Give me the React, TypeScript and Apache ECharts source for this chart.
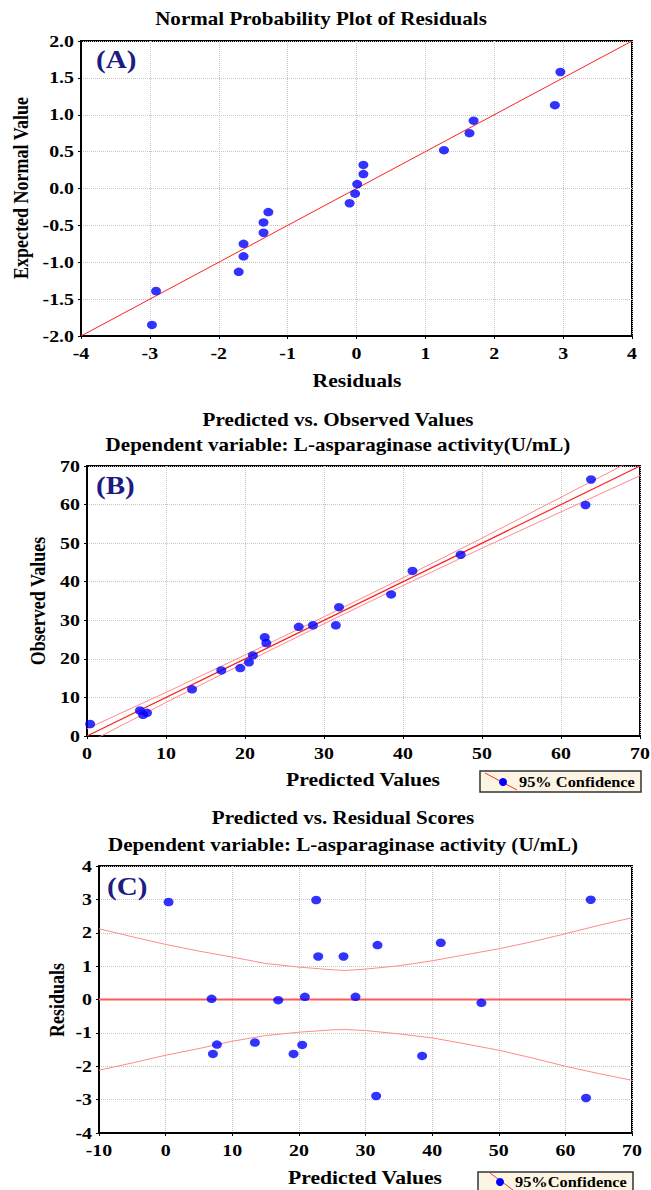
import React, { useEffect, useRef } from "react";
import * as echarts from "echarts";

// Panel A: normal probability plot of residuals
const residualsA = [2.96, 2.88, 1.70, 1.64, 1.27, 0.10, 0.10, 0.01, -0.02, -0.10, -1.28, -1.35, -1.35, -1.64, -1.64, -1.71, -2.91, -2.97];
const expectedA = [1.58, 1.13, 0.92, 0.75, 0.52, 0.32, 0.195, 0.06, -0.07, -0.20, -0.32, -0.46, -0.60, -0.75, -0.92, -1.13, -1.39, -1.85];
const fitLineAX = [-4, 4];
const fitLineAY = [-2, 2];
const ticksAX = [-4, -3, -2, -1, 0, 1, 2, 3, 4];
const ticksAY = [-2, -1.5, -1, -0.5, 0, 0.5, 1, 1.5, 2];

// Panel B: predicted vs observed
const predictedB = [63.8, 63.1, 47.3, 41.2, 38.5, 31.9, 31.5, 28.6, 26.8, 22.5, 22.7, 21.0, 20.5, 19.4, 17.0, 13.3, 6.7, 7.1, 7.6, 0.4];
const observedB = [66.5, 59.9, 47.0, 42.8, 36.7, 33.4, 28.7, 28.7, 28.3, 25.6, 24.1, 20.9, 19.1, 17.6, 17.0, 12.1, 6.6, 5.5, 6.0, 3.1];
const fitLineBX = [0, 70];
const fitLineBY = [0, 70];
const bandBX = [0, 10, 20, 30, 40, 50, 60, 70];
const bandBUpper = [1.9, 11.3, 21.0, 30.9, 41.0, 51.3, 61.9, 72.5];
const bandBLower = [-1.9, 8.7, 19.0, 29.1, 39.0, 48.7, 58.1, 67.5];
const ticksBX = [0, 10, 20, 30, 40, 50, 60, 70];
const ticksBY = [0, 10, 20, 30, 40, 50, 60, 70];

// Panel C: predicted vs residual
const predictedC = [0.44, 22.6, 63.8, 31.8, 41.3, 22.9, 26.7, 6.9, 16.9, 20.9, 28.5, 47.4, 7.7, 7.1, 13.4, 19.2, 20.5, 38.5, 31.6, 63.1];
const residualC = [2.92, 2.98, 2.99, 1.63, 1.70, 1.29, 1.29, 0.02, -0.02, 0.08, 0.08, -0.10, -1.35, -1.63, -1.29, -1.63, -1.36, -1.69, -2.89, -2.95];
const bandCX = [-10, -5, 0, 5, 10, 15, 20, 25, 27, 30, 35, 40, 45, 50, 55, 60, 65, 70];
const bandCUpper = [2.12, 1.88, 1.65, 1.45, 1.27, 1.08, 0.97, 0.89, 0.87, 0.91, 1.01, 1.16, 1.34, 1.52, 1.73, 1.97, 2.22, 2.45];
const bandCLower = [-2.12, -1.9, -1.67, -1.47, -1.25, -1.08, -0.98, -0.91, -0.9, -0.93, -1.03, -1.15, -1.33, -1.52, -1.75, -2.0, -2.22, -2.42];
const zeroLineCX = [-10, 70];
const zeroLineCY = [0, 0];
const ticksCX = [-10, 0, 10, 20, 30, 40, 50, 60, 70];
const ticksCY = [-4, -3, -2, -1, 0, 1, 2, 3, 4];

const titleA = "Normal Probability Plot of Residuals";
const titleB1 = "Predicted vs. Observed Values";
const titleB2 = "Dependent variable: L-asparaginase activity(U/mL)";
const titleC1 = "Predicted vs. Residual Scores";
const titleC2 = "Dependent variable: L-asparaginase activity (U/mL)";
const legendB = "95% Confidence";
const legendC = "95%Confidence";

const FONT = "'Liberation Serif', 'Times New Roman', serif";
const K = 1.17; // horizontal stretch of the reference's lettering

const zip = (xs: number[], ys: number[]) => xs.map((x, i) => [x, ys[i]]);

export default function App() {
  const ref = useRef<HTMLDivElement>(null);
  useEffect(() => {
    if (!ref.current) return;
    const chart = echarts.init(ref.current, undefined, { renderer: "svg" });
    const axisCommon = {
      axisLine: { show: true, onZero: false, lineStyle: { color: "#000", width: 2 } },
      axisTick: { show: true, inside: false, length: 3, lineStyle: { color: "#000" } },
      axisLabel: { show: false },
      splitLine: { show: true, lineStyle: { color: "#c4c4c4", type: "dotted", width: 1 } },
    };
    const gridCommon = { show: true, borderColor: "#000", borderWidth: 2, backgroundColor: "#fff", containLabel: false };
    const grids = [
      { left: 81, top: 41, width: 551, height: 295 },
      { left: 87, top: 466, width: 553, height: 270 },
      { left: 99, top: 866, width: 533, height: 267 },
    ];
    const option: any = {
      animation: false,
      backgroundColor: "#fff",
      grid: grids.map((g) => ({ ...gridCommon, ...g })),
      xAxis: [
        { ...axisCommon, type: "value", gridIndex: 0, min: -4, max: 4, interval: 1 },
        { ...axisCommon, type: "value", gridIndex: 1, min: 0, max: 70, interval: 10 },
        { ...axisCommon, type: "value", gridIndex: 2, min: -10, max: 70, interval: 10 },
      ],
      yAxis: [
        { ...axisCommon, type: "value", gridIndex: 0, min: -2, max: 2, interval: 0.5 },
        { ...axisCommon, type: "value", gridIndex: 1, min: 0, max: 70, interval: 10 },
        { ...axisCommon, type: "value", gridIndex: 2, min: -4, max: 4, interval: 1 },
      ],
      series: [
        { type: "line", xAxisIndex: 0, yAxisIndex: 0, data: zip(fitLineAX, fitLineAY), symbol: "none", lineStyle: { color: "#ff2020", width: 1 }, clip: true },
        { type: "scatter", xAxisIndex: 0, yAxisIndex: 0, data: zip(residualsA, expectedA), symbolSize: [10, 8.5], itemStyle: { color: "#0000ff" }, z: 5 },
        { type: "line", xAxisIndex: 1, yAxisIndex: 1, data: zip(fitLineBX, fitLineBY), symbol: "none", lineStyle: { color: "#ff2020", width: 1.2 }, clip: true },
        { type: "line", xAxisIndex: 1, yAxisIndex: 1, data: zip(bandBX, bandBUpper), symbol: "none", lineStyle: { color: "#ff8a8a", width: 1 }, clip: true },
        { type: "line", xAxisIndex: 1, yAxisIndex: 1, data: zip(bandBX, bandBLower), symbol: "none", lineStyle: { color: "#ff8a8a", width: 1 }, clip: true },
        { type: "scatter", xAxisIndex: 1, yAxisIndex: 1, data: zip(predictedB, observedB), symbolSize: [10, 8.5], itemStyle: { color: "#0000ff" }, z: 5 },
        { type: "line", xAxisIndex: 2, yAxisIndex: 2, data: zip(zeroLineCX, zeroLineCY), symbol: "none", lineStyle: { color: "#ff5a5a", width: 2 }, clip: true },
        { type: "line", xAxisIndex: 2, yAxisIndex: 2, data: zip(bandCX, bandCUpper), symbol: "none", lineStyle: { color: "#ff8a8a", width: 1 }, clip: true },
        { type: "line", xAxisIndex: 2, yAxisIndex: 2, data: zip(bandCX, bandCLower), symbol: "none", lineStyle: { color: "#ff8a8a", width: 1 }, clip: true },
        { type: "scatter", xAxisIndex: 2, yAxisIndex: 2, data: zip(predictedC, residualC), symbolSize: [10, 8.5], itemStyle: { color: "#0000ff" }, z: 5 },
      ],
    };
    chart.setOption(option);

    const txt = (text: string, x: number, y: number, size: number, align = "center", color = "#000", k = K, rotate = false) => ({
      type: "text",
      x,
      y,
      rotation: rotate ? Math.PI / 2 : 0,
      scaleX: rotate ? 1 : k,
      scaleY: rotate ? k : 1,
      style: { text, fill: color, font: `bold ${size}px ${FONT}`, textAlign: align, textVerticalAlign: "middle" },
      z: 100,
    });
    const fmtA = (v: number) => v.toFixed(1);
    const fmt = (v: number) => String(v);
    const graphics: any[] = [];
    const xTickSets = [ticksAX, ticksBX, ticksCX];
    const yTickSets = [ticksAY, ticksBY, ticksCY];
    for (let i = 0; i < 3; i++) {
      const g = grids[i];
      const bottom = g.top + g.height;
      xTickSets[i].forEach((v) => {
        const px = chart.convertToPixel({ xAxisIndex: i } as any, v) as number;
        graphics.push(txt(fmt(v), px, bottom + 17, 17));
      });
      yTickSets[i].forEach((v) => {
        const py = chart.convertToPixel({ yAxisIndex: i } as any, v) as number;
        graphics.push(txt(i === 0 ? fmtA(v) : fmt(v), g.left - 7, py, 17, "right"));
      });
    }
    graphics.push(
      txt(titleA, 321, 19, 18),
      txt(titleB1, 338, 420, 18),
      txt(titleB2, 338, 445, 18),
      txt(titleC1, 343, 818, 18),
      txt(titleC2, 343, 845, 18),
      txt("Residuals", 357, 381, 18.5),
      txt("Predicted Values", 363, 780, 18.5),
      txt("Predicted Values", 365, 1178, 18.5),
      txt("Expected Normal Value", 21, 188, 18, "center", "#000", K, true),
      txt("Observed Values", 38, 601, 18, "center", "#000", K, true),
      txt("Residuals", 57, 1000, 18, "center", "#000", K, true),
      txt("(A)", 96, 59, 26, "left", "#1c1c82", 1.12),
      txt("(B)", 96, 485, 26, "left", "#1c1c82", 1.12),
      txt("(C)", 107, 886, 26, "left", "#1c1c82", 1.12),
      // legend B
      { type: "rect", shape: { x: 480, y: 771, width: 161, height: 21 }, style: { fill: "#fdf5e4", stroke: "#333", lineWidth: 1.5 }, z: 90 },
      { type: "line", shape: { x1: 485, y1: 773, x2: 517, y2: 790 }, style: { stroke: "#ff3030", lineWidth: 1 }, z: 95 },
      { type: "circle", shape: { cx: 503, cy: 782, r: 4 }, style: { fill: "#0000ff" }, z: 96 },
      txt(legendB, 519, 782, 14, "left"),
      // legend C
      { type: "rect", shape: { x: 478, y: 1172, width: 155, height: 25 }, style: { fill: "#fdf5e4", stroke: "#333", lineWidth: 1.5 }, z: 90 },
      { type: "line", shape: { x1: 490, y1: 1173, x2: 513, y2: 1190 }, style: { stroke: "#ff3030", lineWidth: 1 }, z: 95 },
      { type: "circle", shape: { cx: 500, cy: 1182, r: 4 }, style: { fill: "#0000ff" }, z: 96 },
      txt(legendC, 515, 1182, 14, "left"),
    );
    chart.setOption({ graphic: graphics });
    return () => chart.dispose();
  }, []);
  return <div ref={ref} style={{ position: "fixed", left: 0, top: 0, width: 651, height: 1190 }} />;
}
